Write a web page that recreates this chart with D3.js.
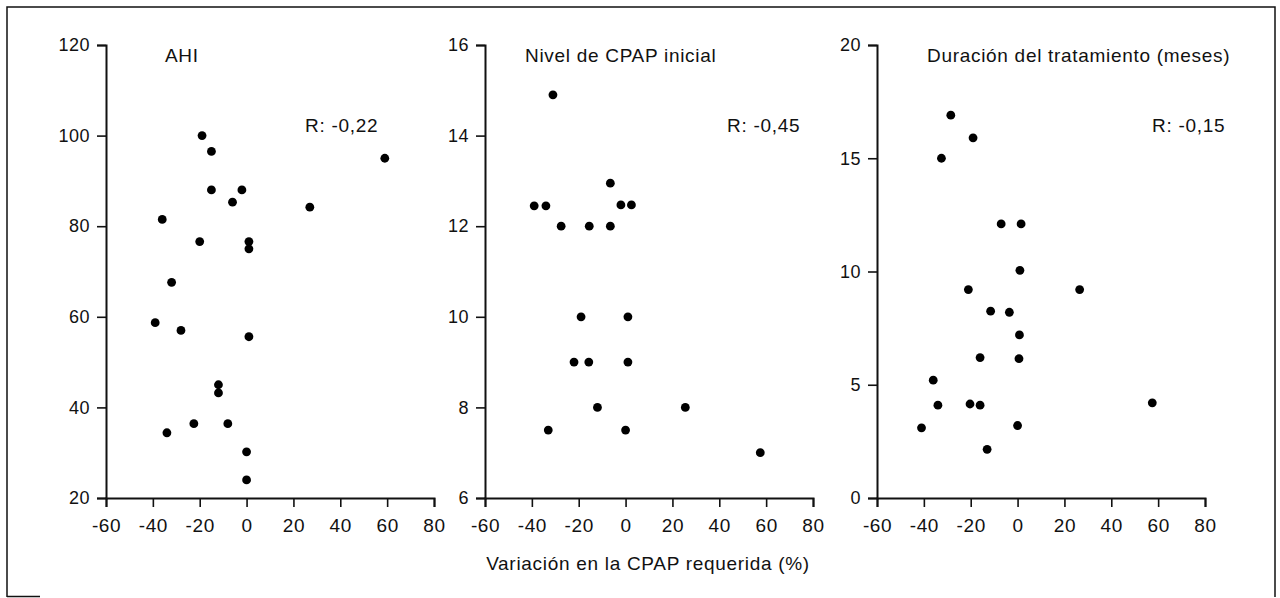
<!DOCTYPE html>
<html>
<head>
<meta charset="utf-8">
<script src="https://cdn.jsdelivr.net/npm/d3@7"></script>
<style>
  body { margin: 0; background: #fff; }
  svg { display: block; }
  text { font-family: "Liberation Sans", Arial, sans-serif; fill: #111; }
</style>
</head>
<body>
<script>
// variación en la CPAP requerida (%) vs three variables
const xTicks = [-60, -40, -20, 0, 20, 40, 60, 80]

const ahiX = [-19, -15, -15, -2, -6, -36, 27, 59, -20, 1, 1, -32, -39, -28, 1, -12, -12, -22.5, -8, -34, 0, 0]
const ahiY = [100, 96.5, 88, 88, 85.3, 81.5, 84.2, 95, 76.6, 76.6, 75, 67.6, 58.7, 57, 55.6, 45, 43.2, 36.4, 36.4, 34.4, 30.2, 24]
const ahiTicks = [20, 40, 60, 80, 100, 120]

const cpapX = [-31, -39, -34, -27.5, -15.5, -6.5, -6.5, -2, 2.5, -19, 1, -22, -15.7, 1, -12, 25.5, -33, 0, 57.5]
const cpapY = [14.9, 12.45, 12.45, 12, 12, 12, 12.95, 12.47, 12.47, 10, 10, 9, 9, 9, 8, 8, 7.5, 7.5, 7]
const cpapTicks = [6, 8, 10, 12, 14, 16]

const durX = [-28.5, -19, -32.5, -7, 1.5, 1, -21, 26.5, -11.5, -3.5, 0.8, -16, 0.6, -36, -34, -20.3, -16, 57.5, -41, 0, -13]
const durY = [16.9, 15.9, 15, 12.1, 12.1, 10.05, 9.2, 9.2, 8.25, 8.2, 7.2, 6.2, 6.15, 5.2, 4.1, 4.15, 4.1, 4.2, 3.1, 3.2, 2.15]
const durTicks = [0, 5, 10, 15, 20]

const titles = ["AHI", "Nivel de CPAP inicial", "Duración del tratamiento (meses)"]
const rLabels = ["R: -0,22", "R: -0,45", "R: -0,15"]
const xLabel = "Variación en la CPAP requerida (%)"

const width = 1280, height = 598

let svg = d3.select("body")
            .append("svg")
            .attr("width", width)
            .attr("height", height)

// frame around the figure (bottom edge mostly lost in the scan)
svg.append("path")
   .attr("d", "M7,597 V7 H1275 V597")
   .attr("fill", "none")
   .attr("stroke", "#111")
   .attr("stroke-width", 1.5)
svg.append("line")
   .attr("x1", 7).attr("x2", 40)
   .attr("y1", 596.5).attr("y2", 596.5)
   .attr("stroke", "#111")
   .attr("stroke-width", 1.5)

const panels = [
  { left: 106, xs: ahiX, ys: ahiY, ticks: ahiTicks, title: titles[0], r: rLabels[0], tx: 165, rx: 305 },
  { left: 485, xs: cpapX, ys: cpapY, ticks: cpapTicks, title: titles[1], r: rLabels[1], tx: 525, rx: 727 },
  { left: 877, xs: durX, ys: durY, ticks: durTicks, title: titles[2], r: rLabels[2], tx: 927, rx: 1152 }
]

const plotTop = 45, plotBottom = 498, plotW = 328
const plain = d => String(d)   // hyphen minus like the original

panels.forEach(p => {
  const x = d3.scaleLinear().domain([-60, 80]).range([p.left, p.left + plotW])
  const y = d3.scaleLinear().domain(d3.extent(p.ticks)).range([plotBottom, plotTop])

  const gx = svg.append("g")
     .attr("transform", `translate(0,${plotBottom})`)
     .call(d3.axisBottom(x).tickValues(xTicks).tickSize(9).tickPadding(12).tickFormat(plain))
  gx.selectAll("text")
     .style("font-size", "19px")
     .style("letter-spacing", "0.6px")
     .attr("fill", "#111")

  const gy = svg.append("g")
     .attr("transform", `translate(${p.left},0)`)
     .call(d3.axisLeft(y).tickValues(p.ticks).tickSize(9).tickPadding(7).tickFormat(plain))
  gy.selectAll("text")
     .style("font-size", "18px")
     .style("letter-spacing", "0.5px")
     .attr("fill", "#111")

  svg.selectAll(".domain").attr("stroke", "#111").attr("stroke-width", 2)
  svg.selectAll(".tick line").attr("stroke", "#111").attr("stroke-width", 1.6)

  svg.append("text")
     .attr("x", p.tx).attr("y", 62)
     .style("font-size", "19px")
     .style("letter-spacing", "0.7px")
     .text(p.title)

  svg.append("text")
     .attr("x", p.rx).attr("y", 132)
     .style("font-size", "19px")
     .style("letter-spacing", "0.7px")
     .text(p.r)

  svg.append("g")
     .selectAll("circle")
     .data(p.xs.map((v, i) => [v, p.ys[i]]))
     .join("circle")
       .attr("cx", d => x(d[0]))
       .attr("cy", d => y(d[1]))
       .attr("r", 4.4)
       .attr("fill", "#000")
})

svg.append("text")
   .attr("x", 648).attr("y", 570)
   .attr("text-anchor", "middle")
   .style("font-size", "19px")
   .style("letter-spacing", "0.7px")
   .text(xLabel)
</script>
</body>
</html>
